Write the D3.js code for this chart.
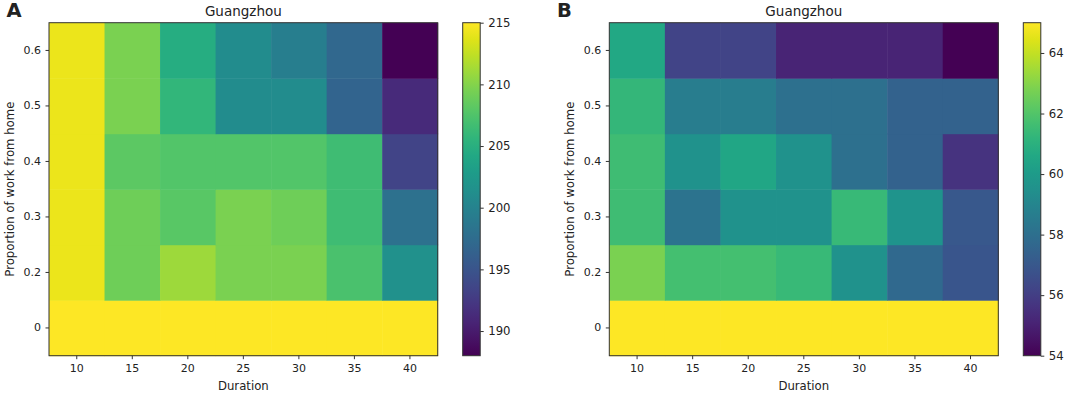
<!DOCTYPE html>
<html>
<head>
<meta charset="utf-8">
<script src="https://cdn.jsdelivr.net/npm/d3@7"></script>
<style>
  body { margin: 0; background: #fff; }
  text { font-family: "DejaVu Sans", sans-serif; fill: #222; }
</style>
</head>
<body>
<div id="chart"></div>
<script>
// heatmap data, rows = proportion of work from home, columns = duration
const durations = [10, 15, 20, 25, 30, 35, 40];
const proportions = [0, 0.2, 0.3, 0.4, 0.5, 0.6];
const propLabels = ["0", "0.2", "0.3", "0.4", "0.5", "0.6"];

// panel A (rows in order of proportions)
const valuesA = [
  [215, 215, 215, 215, 215, 215, 215],
  [214.2, 209.0, 211.0, 209.6, 209.6, 207.2, 201.5],
  [214.2, 209.0, 208.0, 209.6, 209.0, 206.6, 198.0],
  [214.2, 208.2, 207.7, 207.7, 207.7, 206.6, 193.4],
  [214.2, 209.6, 205.8, 201.0, 201.0, 196.6, 191.2],
  [214.2, 209.6, 204.7, 201.0, 199.4, 197.0, 188.0]
];
// panel B
const valuesB = [
  [65, 65, 65, 65, 65, 65, 65],
  [62.8, 61.7, 61.7, 61.4, 59.6, 57.7, 56.9],
  [61.6, 58.2, 59.6, 59.6, 61.4, 59.7, 57.0],
  [61.6, 59.6, 60.5, 59.6, 58.0, 57.4, 55.6],
  [61.3, 58.6, 58.6, 58.0, 58.0, 57.4, 57.4],
  [60.6, 56.2, 56.2, 55.1, 55.1, 55.1, 54.0]
];
const ticksA = [190, 195, 200, 205, 210, 215];
const ticksB = [54, 56, 58, 60, 62, 64];

const width = 1065, height = 393;
const svg = d3.select("#chart").append("svg")
    .attr("width", width).attr("height", height);

const defs = svg.append("defs");

function panel(opts) {
  const { letter, values, domain, ticks, left, right, barX, gid } = opts;
  const top = 22.7, bottom = 355.7;

  const x = d3.scaleBand().domain(durations).range([left, right]);
  const y = d3.scaleBand().domain(proportions).range([bottom, top]);
  const color = d3.scaleSequential(d3.interpolateViridis).domain(domain);

  const g = svg.append("g");

  // cells
  const cells = [];
  values.forEach((row, i) => row.forEach((v, j) => cells.push({ p: proportions[i], d: durations[j], v })));
  g.selectAll("rect.cell").data(cells).join("rect")
    .attr("class", "cell")
    .attr("x", d => x(d.d))
    .attr("y", d => y(d.p))
    .attr("width", x.bandwidth() + 0.5)
    .attr("height", y.bandwidth() + 0.5)
    .attr("fill", d => color(d.v));

  // frame
  g.append("rect")
    .attr("x", left).attr("y", top)
    .attr("width", right - left).attr("height", bottom - top)
    .attr("fill", "none").attr("stroke", "#333").attr("stroke-width", 1);

  // axes
  const xAxis = g.append("g")
    .attr("transform", `translate(0,${bottom})`)
    .call(d3.axisBottom(x).tickSize(3.5).tickSizeOuter(0).tickPadding(5));
  const yAxis = g.append("g")
    .attr("transform", `translate(${left},0)`)
    .call(d3.axisLeft(y).tickSize(3.5).tickSizeOuter(0).tickPadding(4.5)
      .tickFormat((d, i) => propLabels[i]));
  [xAxis, yAxis].forEach(a => {
    a.select(".domain").remove();
    a.selectAll("line").attr("stroke", "#333");
    a.selectAll("text").style("font-size", "11px").attr("fill", "#222");
  });

  // title + labels
  g.append("text")
    .attr("x", (left + right) / 2).attr("y", 16)
    .attr("text-anchor", "middle").style("font-size", "13.5px")
    .text("Guangzhou");
  g.append("text")
    .attr("x", (left + right) / 2).attr("y", 390)
    .attr("text-anchor", "middle").style("font-size", "11.7px")
    .text("Duration");
  g.append("text")
    .attr("transform", `translate(${left - 35.5},${(top + bottom) / 2}) rotate(-90)`)
    .attr("text-anchor", "middle").style("font-size", "11.7px")
    .text("Proportion of work from home");
  g.append("text")
    .attr("x", opts.letterX).attr("y", 17)
    .style("font-size", "19.5px").style("font-weight", "bold").attr("fill", "#111")
    .text(letter);

  // colorbar
  const grad = defs.append("linearGradient").attr("id", gid)
    .attr("x1", 0).attr("y1", 1).attr("x2", 0).attr("y2", 0);
  d3.range(0, 1.0001, 0.05).forEach(t => {
    grad.append("stop").attr("offset", t).attr("stop-color", d3.interpolateViridis(t));
  });
  const barW = 17.5;
  g.append("rect")
    .attr("x", barX).attr("y", top)
    .attr("width", barW).attr("height", bottom - top)
    .attr("fill", `url(#${gid})`)
    .attr("stroke", "#333").attr("stroke-width", 1);
  const cy = d3.scaleLinear().domain(domain).range([bottom, top]);
  const cAxis = g.append("g")
    .attr("transform", `translate(${barX + barW},0)`)
    .call(d3.axisRight(cy).tickValues(ticks).tickSize(3.5).tickPadding(4.5));
  cAxis.select(".domain").remove();
  cAxis.selectAll("line").attr("stroke", "#333");
  cAxis.selectAll("text").style("font-size", "11.7px").attr("fill", "#222");
}

panel({ letter: "A", values: valuesA, domain: [188, 215], ticks: ticksA,
        left: 49, right: 437.7, barX: 462.7, gid: "gradA", letterX: 6.5 });
panel({ letter: "B", values: valuesB, domain: [54, 65], ticks: ticksB,
        left: 609.3, right: 998.3, barX: 1023.3, gid: "gradB", letterX: 557 });
</script>
</body>
</html>
